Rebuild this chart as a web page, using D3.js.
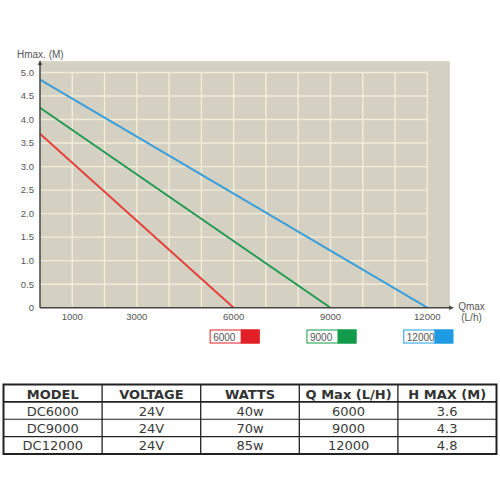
<!DOCTYPE html>
<html>
<head>
<meta charset="utf-8">
<script src="https://cdn.jsdelivr.net/npm/d3@7"></script>
<style>
  body { margin: 0; background: #fff; }
  svg { display: block; }
</style>
</head>
<body>
<svg id="chart" width="500" height="500"></svg>
<script>
// pump data
var models = ["DC6000", "DC9000", "DC12000"];
var voltages = ["24V", "24V", "24V"];
var watts = ["40w", "70w", "85w"];
var qMax = [6000, 9000, 12000];
var hMax = [3.6, 4.3, 4.8];
// head at zero flow, as the curves are drawn
var hStart = [3.7, 4.25, 4.85];
var lineColors = ["#e5423d", "#1f9a50", "#3a9fda"];
var swatchColors = ["#e31f26", "#139a4b", "#1e9be2"];

var columns = ["MODEL", "VOLTAGE", "WATTS", "Q Max (L/H)", "H MAX (M)"];
var yTicks = [0, 0.5, 1.0, 1.5, 2.0, 2.5, 3.0, 3.5, 4.0, 4.5, 5.0];
var xGrid = [0, 1000, 2000, 3000, 4000, 5000, 6000, 7000, 8000, 9000, 10000, 11000, 12000];
var xLabels = [1000, 3000, 6000, 9000, 12000];

var svg = d3.select("#chart");

//////////////////chart//////////////////
var x = d3.scaleLinear().domain([0, 12000]).range([40, 427.3]);
var y = d3.scaleLinear().domain([0, 5]).range([307.7, 72.5]);

//background panel, a bit past the grid
svg.append("rect")
  .attr("x", x(0))
  .attr("y", y(5.24))
  .attr("width", x(12700) - x(0))
  .attr("height", y(0) - y(5.24))
  .attr("fill", "#d5d1c2");

var grid = svg.append("g").attr("stroke", "#f1edd9").attr("stroke-width", 1.4);
grid.selectAll(".hgrid")
  .data(yTicks.filter(function(d){ return d > 0; }))
  .enter().append("line")
    .attr("x1", x(0)).attr("x2", x(12000))
    .attr("y1", function(d){ return y(d); })
    .attr("y2", function(d){ return y(d); });
grid.selectAll(".vgrid")
  .data(xGrid.filter(function(d){ return d > 0; }))
  .enter().append("line")
    .attr("x1", function(d){ return x(d); })
    .attr("x2", function(d){ return x(d); })
    .attr("y1", y(5)).attr("y2", y(0));

//curves
var line = d3.line()
  .x(function(d){ return x(d[0]); })
  .y(function(d){ return y(d[1]); });

svg.append("g").selectAll("path")
  .data(qMax)
  .enter().append("path")
    .attr("d", function(d, i){ return line([[0, hStart[i]], [d, 0]]); })
    .attr("fill", "none")
    .attr("stroke", function(d, i){ return lineColors[i]; })
    .attr("stroke-width", 2);

//axes
var axisColor = "#444";
svg.append("line")
  .attr("x1", x(0)).attr("x2", 451)
  .attr("y1", y(0)).attr("y2", y(0))
  .attr("stroke", axisColor).attr("stroke-width", 1.5);
svg.append("line")
  .attr("x1", x(0)).attr("x2", x(0))
  .attr("y1", y(0)).attr("y2", 63)
  .attr("stroke", axisColor).attr("stroke-width", 1.5);
svg.append("path")
  .attr("d", "M" + x(0) + ",60 l-2.2,5 l4.4,0 z")
  .attr("fill", axisColor);
svg.append("path")
  .attr("d", "M454," + y(0) + " l-5,-2.2 l0,4.4 z")
  .attr("fill", axisColor);

var labelFont = "'Liberation Sans', Arial, sans-serif";

svg.append("g").selectAll("text")
  .data(yTicks)
  .enter().append("text")
    .attr("x", 34)
    .attr("y", function(d){ return y(d); })
    .attr("dy", "0.35em")
    .attr("text-anchor", "end")
    .attr("font-family", labelFont)
    .attr("font-size", 9.5)
    .attr("fill", "#555")
    .text(function(d){ return d === 0 ? "0" : d3.format(".1f")(d); });

svg.append("g").selectAll("text")
  .data(xLabels)
  .enter().append("text")
    .attr("x", function(d){ return x(d); })
    .attr("y", 319.5)
    .attr("text-anchor", "middle")
    .attr("font-family", labelFont)
    .attr("font-size", 9.5)
    .attr("fill", "#555")
    .text(function(d){ return d; });

svg.append("text")
  .attr("x", 17).attr("y", 58)
  .attr("font-family", labelFont)
  .attr("font-size", 10)
  .attr("fill", "#555")
  .text("Hmax. (M)");

svg.append("text")
  .attr("x", 471.5).attr("y", 309.5)
  .attr("text-anchor", "middle")
  .attr("font-family", labelFont)
  .attr("font-size", 10)
  .attr("fill", "#555")
  .text("Qmax");
svg.append("text")
  .attr("x", 471.5).attr("y", 321)
  .attr("text-anchor", "middle")
  .attr("font-family", labelFont)
  .attr("font-size", 10)
  .attr("fill", "#555")
  .text("(L/h)");

//legend swatches under each curve end
var legend = svg.append("g").selectAll("g")
  .data(qMax)
  .enter().append("g")
    .attr("transform", function(d){ return "translate(" + (x(d) - 24) + ",329.5)"; });
legend.append("rect")
  .attr("x", 0.5).attr("y", 0.5)
  .attr("width", 49).attr("height", 13)
  .attr("fill", "#fff")
  .attr("stroke", function(d, i){ return swatchColors[i]; })
  .attr("stroke-width", 1);
legend.append("rect")
  .attr("x", 31).attr("y", 0)
  .attr("width", 19).attr("height", 14)
  .attr("fill", function(d, i){ return swatchColors[i]; });
legend.append("text")
  .attr("x", 3.5).attr("y", 11)
  .attr("font-family", labelFont)
  .attr("font-size", 10)
  .attr("fill", "#555")
  .text(function(d){ return d; });

//////////////////spec table//////////////////
var rows = models.map(function(m, i){
  return [m, voltages[i], watts[i], String(qMax[i]), String(hMax[i])];
});

var col = d3.scaleBand().domain(d3.range(columns.length)).range([3.5, 496.5]);
var row = d3.scaleBand().domain(d3.range(rows.length + 1)).range([384.5, 454]);

var table = svg.append("g");
var tableFont = "'DejaVu Sans', Verdana, sans-serif";

//inner row lines
table.selectAll(".rowline")
  .data(d3.range(1, rows.length + 1))
  .enter().append("line")
    .attr("x1", col.range()[0]).attr("x2", col.range()[1])
    .attr("y1", function(d){ return row(d); })
    .attr("y2", function(d){ return row(d); })
    .attr("stroke", "#222")
    .attr("stroke-width", function(d){ return d === 1 ? 1.6 : 1.2; });
//column lines
table.selectAll(".colline")
  .data(d3.range(1, columns.length))
  .enter().append("line")
    .attr("x1", function(d){ return col(d); })
    .attr("x2", function(d){ return col(d); })
    .attr("y1", row.range()[0]).attr("y2", row.range()[1])
    .attr("stroke", "#222")
    .attr("stroke-width", 1.3);
table.append("rect")
  .attr("x", col.range()[0]).attr("y", row.range()[0])
  .attr("width", col.range()[1] - col.range()[0])
  .attr("height", row.range()[1] - row.range()[0])
  .attr("fill", "none")
  .attr("stroke", "#222")
  .attr("stroke-width", 2);

table.selectAll(".head")
  .data(columns)
  .enter().append("text")
    .attr("x", function(d, i){ return col(i) + col.bandwidth() / 2; })
    .attr("y", row(0) + 14.5)
    .attr("text-anchor", "middle")
    .attr("font-family", tableFont)
    .attr("font-weight", "bold")
    .attr("font-size", 13)
    .attr("fill", "#333")
    .text(function(d){ return d; });

rows.forEach(function(r, ri){
  table.append("g").selectAll("text")
    .data(r)
    .enter().append("text")
      .attr("x", function(d, i){ return col(i) + col.bandwidth() / 2; })
      .attr("y", row(ri + 1) + 13.8)
      .attr("text-anchor", "middle")
      .attr("font-family", tableFont)
      .attr("font-size", 13)
      .attr("fill", "#3a3a3a")
      .text(function(d){ return d; });
});
</script>
</body>
</html>
